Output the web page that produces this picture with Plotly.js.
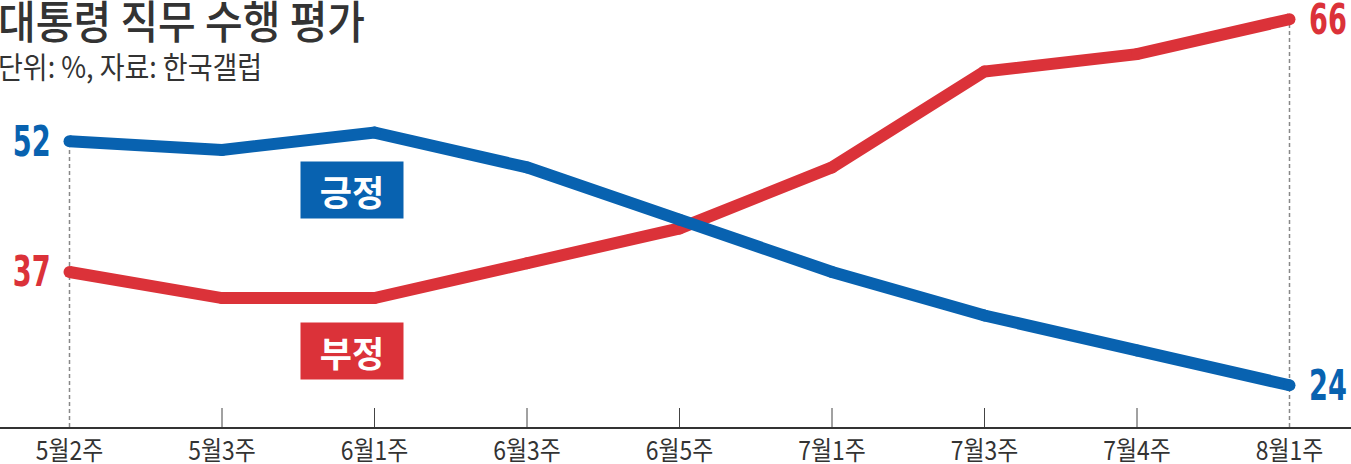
<!DOCTYPE html>
<html>
<head>
<meta charset="utf-8">
<script src="https://cdn.plot.ly/plotly-3.0.1.min.js"></script>
<style>
html,body{margin:0;padding:0;background:#fff;}
#chart{width:1351px;height:464px;}
</style>
</head>
<body>
<div id="chart"></div>
<script>
const categories = ['5월2주','5월3주','6월1주','6월3주','6월5주','7월1주','7월3주','7월4주','8월1주'];
const positive = [52, 51, 53, 49, 43, 37, 32, 28, 24];
const negative = [37, 34, 34, 38, 42, 49, 60, 62, 66];
const seriesNames = ['긍정', '부정'];
const titleText = '대통령 직무 수행 평가';
const subtitleText = '단위: %, 자료: 한국갤럽';

const BLUE = '#0862b0';
const RED = '#db3239';
const yMin = 19.21, yMax = 68.21;
const PH = 427; // plot height in px
const numFont = 'DejaVu Sans Condensed, Liberation Sans, sans-serif';
const krFont = 'Noto Sans CJK KR, Noto Sans, sans-serif';

const traces = [
  {x: categories, y: negative, type: 'scatter', mode: 'lines+markers', name: seriesNames[1],
   line: {color: RED, width: 12}, marker: {color: RED, size: 12}, hoverinfo: 'skip'},
  {x: categories, y: positive, type: 'scatter', mode: 'lines+markers', name: seriesNames[0],
   line: {color: BLUE, width: 12}, marker: {color: BLUE, size: 12}, hoverinfo: 'skip'}
];

const last = categories.length - 1;
const shapes = [];
for (let i = 1; i < last; i++) {
  shapes.push({type: 'line', xref: 'x', yref: 'paper', x0: categories[i], x1: categories[i],
    y0: 0, y1: 19/PH, line: {color: '#444', width: 1}, layer: 'below'});
}
[0, last].forEach(i => {
  shapes.push({type: 'line', xref: 'x', yref: 'y', x0: categories[i], x1: categories[i],
    y0: yMin, y1: Math.max(positive[i], negative[i]),
    line: {color: '#888', width: 1.5, dash: '4px,3px'}, layer: 'below'});
});

const numLabel = (i, series, color, side) => ({
  xref: 'x', yref: 'y', x: categories[i], y: series[i], text: String(series[i]), showarrow: false,
  xanchor: side, xshift: side === 'right' ? -17 : 17, yshift: 0,
  font: {family: numFont, size: 42, color: color, weight: 'bold'}
});

const annotations = [
  numLabel(0, positive, BLUE, 'right'),
  numLabel(0, negative, RED, 'right'),
  numLabel(last, negative, RED, 'left'),
  numLabel(last, positive, BLUE, 'left'),
  {xref: 'paper', yref: 'paper', x: 352/1351, y: (PH-190)/PH, text: seriesNames[0], showarrow: false,
   bgcolor: BLUE, width: 102, height: 56, borderpad: 0, xanchor: 'center', yanchor: 'middle',
   font: {family: krFont, size: 35, color: '#fff', weight: 'bold'}},
  {xref: 'paper', yref: 'paper', x: 352/1351, y: (PH-351)/PH, text: seriesNames[1], showarrow: false,
   bgcolor: RED, width: 102, height: 56, borderpad: 0, xanchor: 'center', yanchor: 'middle',
   font: {family: krFont, size: 35, color: '#fff', weight: 'bold'}},
  {xref: 'paper', yref: 'paper', x: 0, y: 1, xanchor: 'left', yanchor: 'top', showarrow: false,
   text: titleText, xshift: -3, yshift: 15, borderpad: 0, font: {family: krFont, size: 41, color: '#333', weight: 500}},
  {xref: 'paper', yref: 'paper', x: 0, y: (PH-43)/PH, xanchor: 'left', yanchor: 'top', showarrow: false,
   text: subtitleText, xshift: -3, borderpad: 0, font: {family: krFont, size: 27, color: '#333'}}
];

const layout = {
  width: 1351, height: 464,
  margin: {l: 0, r: 0, t: 0, b: 37},
  paper_bgcolor: '#fff', plot_bgcolor: '#fff',
  showlegend: false,
  xaxis: {type: 'category', range: [-69.5/152.5, last + 61.5/152.5], showgrid: false, zeroline: false,
    showline: true, linecolor: '#333', linewidth: 1.5, ticks: '', ticklabelstandoff: 0,
    tickfont: {family: krFont, size: 26, color: '#333'}},
  yaxis: {range: [yMin, yMax], showgrid: false, zeroline: false, showline: false, showticklabels: false, ticks: ''},
  shapes: shapes,
  annotations: annotations
};

Plotly.newPlot('chart', traces, layout, {staticPlot: true, displayModeBar: false}).then(gd => {
  // condensed look of the reference typeface
  const squeeze = (sel, sx, sy, origin) => {
    gd.querySelectorAll(sel).forEach(t => {
      t.style.transformBox = 'fill-box';
      t.style.transformOrigin = origin;
      t.style.transform = 'scale(' + sx + ',' + sy + ')';
    });
  };
  squeeze('.annotation[data-index="0"] text, .annotation[data-index="1"] text', 0.72, 1, 'right center');
  squeeze('.annotation[data-index="2"] text, .annotation[data-index="3"] text', 0.72, 1, 'left center');
  squeeze('.annotation[data-index="6"] text, .annotation[data-index="7"] text', 1, 1.1, 'left top');
  gd.querySelectorAll('.xtick text').forEach(t => {
    const bb = t.getBBox();
    const cx = bb.x + bb.width / 2;
    const tr = t.getAttribute('transform') || '';
    t.setAttribute('transform', tr + ' translate(' + cx + ',0) scale(0.88,1) translate(' + (-cx) + ',0)');
  });
});
</script>
</body>
</html>
